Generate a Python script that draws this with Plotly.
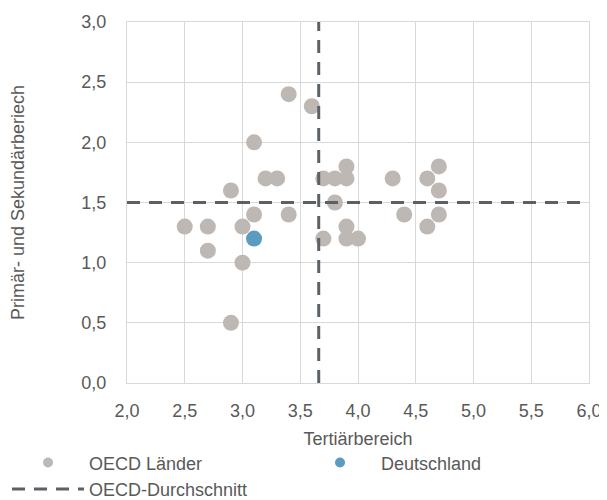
import plotly.graph_objects as go

# OECD countries: tertiary (x) vs primary & secondary (y)
oecd_x = [2.5, 2.7, 2.7, 2.9, 2.9, 3.0, 3.0, 3.1, 3.1, 3.2, 3.3, 3.4, 3.4, 3.6, 3.7,
          3.7, 3.8, 3.8, 3.9, 3.9, 3.9, 3.9, 4.0, 4.3, 4.4, 4.6, 4.6, 4.7, 4.7, 4.7]
oecd_y = [1.3, 1.3, 1.1, 1.6, 0.5, 1.3, 1.0, 2.0, 1.4, 1.7, 1.7, 2.4, 1.4, 2.3, 1.7,
          1.2, 1.7, 1.5, 1.8, 1.7, 1.3, 1.2, 1.2, 1.7, 1.4, 1.7, 1.3, 1.8, 1.6, 1.4]
de_x = [3.1]
de_y = [1.2]
mean_x = 3.66
mean_y = 1.5
x_range = [2.0, 6.0]
y_range = [0.0, 3.0]

grey = "#bdb8b3"
blue = "#5b9bbf"
dash_col = "#5b6167"
text_col = "#595959"
grid_col = "#d9d9d9"
FS = 18
dash = "13px,9px"

fig = go.Figure()
fig.add_trace(go.Scatter(x=oecd_x, y=oecd_y, mode="markers", name="OECD Länder",
                         showlegend=False, marker=dict(size=16, color=grey)))
fig.add_trace(go.Scatter(x=de_x, y=de_y, mode="markers", name="Deutschland",
                         showlegend=False, marker=dict(size=16, color=blue)))
fig.add_trace(go.Scatter(x=[mean_x, mean_x], y=y_range, mode="lines", showlegend=False,
                         line=dict(color=dash_col, width=3, dash=dash)))
fig.add_trace(go.Scatter(x=x_range, y=[mean_y, mean_y], mode="lines", showlegend=False,
                         line=dict(color=dash_col, width=3, dash=dash)))
# legend entries (legend only, smaller symbols as in the original)
fig.add_trace(go.Scatter(x=[None], y=[None], mode="markers", name="OECD Länder",
                         marker=dict(size=10, color=grey)))
fig.add_trace(go.Scatter(x=[None], y=[None], mode="markers", name="Deutschland",
                         marker=dict(size=10, color=blue)))
fig.add_trace(go.Scatter(x=[None], y=[None], mode="lines", name="OECD-Durchschnitt",
                         line=dict(color=dash_col, width=3, dash=dash)))

fig.update_layout(
    width=599, height=492,
    margin=dict(l=119, r=18, t=14, b=117, autoexpand=False),
    paper_bgcolor="white", plot_bgcolor="white",
    separators=",.",
    font=dict(family="Liberation Sans, Arial, sans-serif", size=FS, color=text_col),
    showlegend=True,
    legend=dict(orientation="h", x=-0.2597, xanchor="left", xref="paper",
                y=-0.170, yanchor="top", yref="paper",
                entrywidth=205, entrywidthmode="pixels", itemwidth=72,
                font=dict(size=FS, color=text_col), itemsizing="trace",
                tracegroupgap=0, bgcolor="rgba(0,0,0,0)"),
)
fig.update_xaxes(range=x_range, dtick=0.5, tickformat=".1f", showgrid=True, gridcolor=grid_col,
                 gridwidth=1.3, zeroline=False, showline=True, linecolor=grid_col, linewidth=1.3,
                 mirror=True, ticks="", ticklabelstandoff=11, automargin=False,
                 title=dict(text="Tertiärbereich", standoff=12, font=dict(size=FS, color=text_col)))
fig.update_yaxes(range=y_range, dtick=0.5, tickformat=".1f", showgrid=True, gridcolor=grid_col,
                 gridwidth=1.3, zeroline=False, showline=True, linecolor=grid_col, linewidth=1.3,
                 mirror=True, ticks="", ticklabelstandoff=16, automargin=False,
                 title=dict(text="Primär- und Sekundärberiech", standoff=54, font=dict(size=FS, color=text_col)))

fig.write_html("out.html")
